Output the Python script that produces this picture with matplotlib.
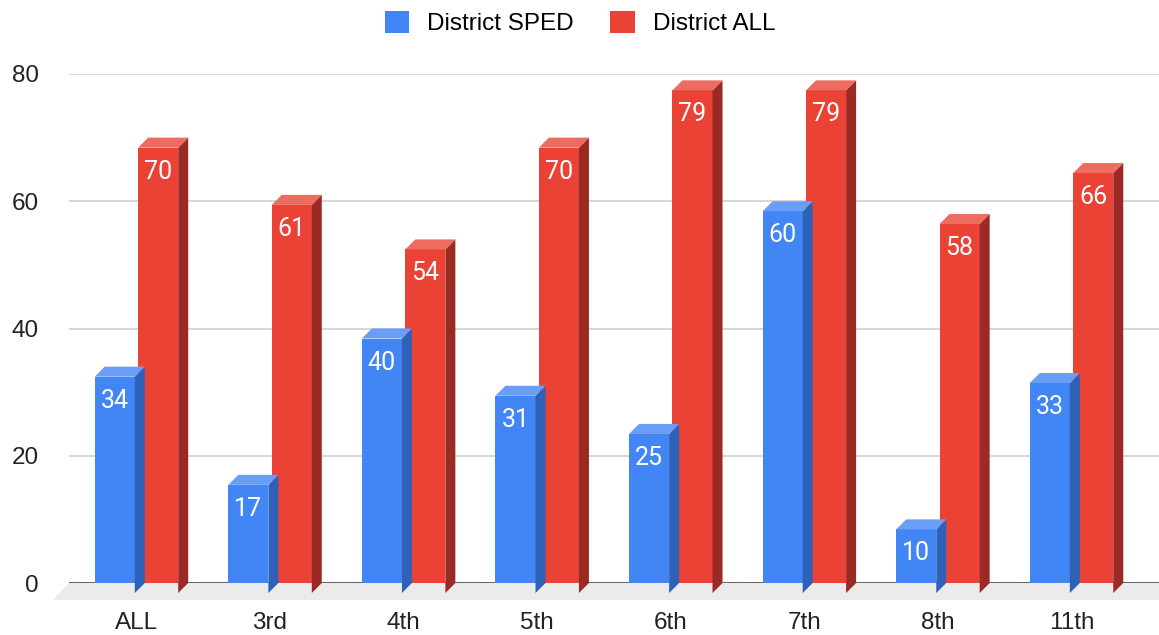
import matplotlib
matplotlib.use("Agg")
import matplotlib.pyplot as plt
from matplotlib.patches import Polygon, Patch
from matplotlib.transforms import IdentityTransform, ScaledTranslation
import numpy as np

categories = ["ALL", "3rd", "4th", "5th", "6th", "7th", "8th", "11th"]
sped = [34, 17, 40, 31, 25, 60, 10, 33]
all_students = [70, 61, 54, 70, 79, 79, 58, 66]
series_names = ["District SPED", "District ALL"]
yticks = [0, 20, 40, 60, 80]

front_colors = ["#4285F4", "#EA4335"]
top_colors = ["#6A9DF6", "#EE6B60"]
side_colors = ["#2E61B8", "#9B2A24"]

DPI = 100
W, H = 1159, 635
fig = plt.figure(figsize=(W / DPI, H / DPI), dpi=DPI)
plt.rcParams["font.family"] = ["Liberation Sans", "DejaVu Sans"]

ax_left, ax_right, ax_bottom, ax_top = 69, 1159, 635 - 583, 635 - 74
ax = fig.add_axes([ax_left / W, ax_bottom / H, (ax_right - ax_left) / W, (ax_top - ax_bottom) / H])
ax.set_ylim(0, 80)
ax.set_xlim(-0.505, 7.655)
for s in ax.spines.values():
    s.set_visible(False)

ax.set_yticks(yticks)
ax.set_yticklabels([str(t) for t in yticks])
ax.yaxis.grid(True, color="#d3d3d3", linewidth=1.3, zorder=1)
ax.set_axisbelow(True)
ax.tick_params(axis="y", length=0, pad=21.6, labelsize=17.5, labelcolor="#222222")
ax.set_xticks(range(len(categories)))
ax.set_xticklabels(categories)
ax.tick_params(axis="x", length=0, pad=21, labelsize=17.5, labelcolor="#222222")

depth = 10  # px
ident = IdentityTransform()

def disp(x, y, dx=0.0, dy=0.0):
    p = ax.transData.transform((x, y))
    return (p[0] + dx, p[1] + dy)

# floor
bl = ax.transAxes.transform((0, 0))
br = ax.transAxes.transform((1, 0))
floor = Polygon([(bl[0], bl[1]), (br[0] + 20, br[1]), (br[0] + 4, br[1] - 17), (bl[0] - 16, bl[1] - 17)],
                closed=True, facecolor="#ebebeb", edgecolor="none", transform=ident, zorder=0.5, clip_on=False)
fig.add_artist(floor)
ax.axhline(0, color="#444444", linewidth=1.1, zorder=1.5)

front_tr = ax.transData + ScaledTranslation(0, -depth / DPI, fig.dpi_scale_trans)

x = np.arange(len(categories))
width = 0.3
offsets = [-0.1625, 0.1625]
for si, vals in enumerate([sped, all_students]):
    xs = x + offsets[si]
    z = 2 + si
    for xc, v in zip(xs, vals):
        x0, x1 = xc - width / 2, xc + width / 2
        side = Polygon([disp(x1, 0, 0, -depth), disp(x1, v, 0, -depth), disp(x1, v, depth, 0), disp(x1, 0, depth, 0)],
                       closed=True, facecolor=side_colors[si], edgecolor="none", transform=ident, zorder=z, clip_on=False)
        top = Polygon([disp(x0, v, 0, -depth), disp(x1, v, 0, -depth), disp(x1, v, depth, 0), disp(x0, v, depth, 0)],
                      closed=True, facecolor=top_colors[si], edgecolor="none", transform=ident, zorder=z, clip_on=False)
        fig.add_artist(side)
        fig.add_artist(top)
    bars = ax.bar(xs, vals, width=width, color=front_colors[si], transform=front_tr, zorder=z + 0.1, clip_on=False,
                  linewidth=0)
    for xc, v in zip(xs, vals):
        ax.annotate(str(v), xy=(xc, v), xycoords=front_tr, xytext=(0, -31), textcoords="offset pixels",
                    ha="center", va="baseline", color="white", fontsize=18, family=["Roboto", "DejaVu Sans"],
                    zorder=10, annotation_clip=False)

handles = [Patch(facecolor=front_colors[i], edgecolor="none", label=series_names[i]) for i in range(2)]
fig.legend(handles=handles, loc="center", bbox_to_anchor=(580 / W, 1 - 23 / H), ncol=2, frameon=False,
           fontsize=17.5, handlelength=1.0, handleheight=1.0, handletextpad=0.75, columnspacing=1.5)

fig.savefig("out.png", dpi=DPI, facecolor="white")
